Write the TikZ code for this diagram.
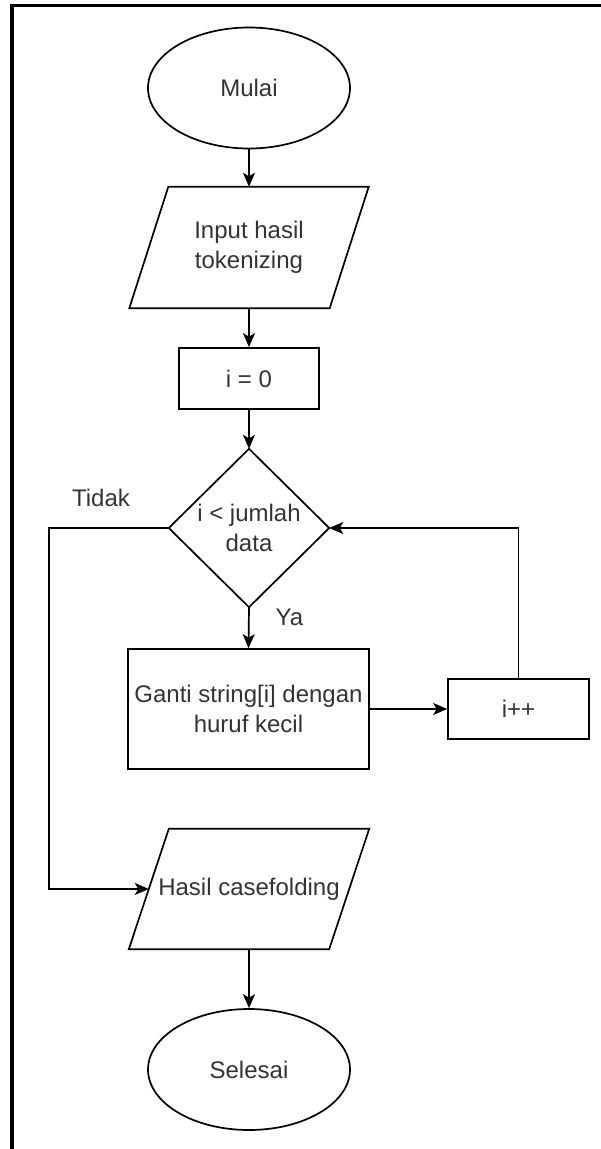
\documentclass[tikz,border=0pt]{standalone}
\usepackage{fontspec}
\setmainfont{Liberation Sans}
\usetikzlibrary{arrows.meta,shapes.geometric}

\tikzset{
  lbl/.style={font=\fontsize{24}{30}\selectfont, text=black!80, align=center},
  term/.style={lbl, ellipse, draw, line width=1.7pt, inner sep=0pt,
               minimum width=202pt, minimum height=121pt},
  proc/.style={lbl, rectangle, draw, line width=1.7pt, inner sep=0pt},
  slot/.style={lbl, rectangle, inner sep=0pt},
  edge/.style={line width=1.7pt, -{Stealth[length=14pt,width=12pt,inset=3.5pt]}},
  outline/.style={line width=1.7pt, line join=miter},
}

\begin{document}
\begin{tikzpicture}[x=1pt, y=-1pt]
  \useasboundingbox (0,0) rectangle (601,1149);

  % frame along top and left
  \draw[line width=3.5pt] (601,5.5) -- (12,5.5) -- (12,1149);

  % start / end terminals
  \node[term] (mulai) at (249,88) {Mulai};
  \node[term] (selesai) at (249,1069.5) {Selesai};

  % input parallelogram
  \node[slot, minimum width=200pt, minimum height=121pt] (input) at (249,247.5)
       {Input hasil\\tokenizing};
  \draw[outline] ([xshift=19.5pt]input.north west) -- ([xshift=19.5pt]input.north east)
       -- ([xshift=-19.5pt]input.south east) -- ([xshift=-19.5pt]input.south west) -- cycle;

  % initialisation
  \node[proc, minimum width=140pt, minimum height=61pt] (init) at (249,378.5) {i = 0};

  % decision diamond
  \node[slot, minimum width=160pt, minimum height=158pt] (cond) at (249,528)
       {i < jumlah\\data};
  \draw[outline] (cond.north) -- (cond.east) -- (cond.south) -- (cond.west) -- cycle;

  % loop body and increment
  \node[proc, minimum width=241pt, minimum height=120pt] (ganti) at (248.5,709)
       {Ganti string[i] dengan\\huruf kecil};
  \node[proc, minimum width=141pt, minimum height=60pt] (inc) at (518.5,709) {i++};

  % output parallelogram
  \node[slot, minimum width=200pt, minimum height=120pt] (hasil) at (249,889)
       {Hasil casefolding};
  \draw[outline] ([xshift=20pt]hasil.north west) -- ([xshift=20pt]hasil.north east)
       -- ([xshift=-20pt]hasil.south east) -- ([xshift=-20pt]hasil.south west) -- cycle;

  % branch labels
  \node[lbl] (tidak) at (101,498) {Tidak};
  \node[lbl] (ya) at (289.5,617) {Ya};

  % connectors
  \coordinate (exit) at (49,528);
  \draw[edge] (mulai.south) -- (input.north);
  \draw[edge] (input.south) -- (init.north);
  \draw[edge] (init.south) -- (cond.north);
  \draw[edge] (cond.south) -- (ganti.north);
  \draw[edge] (ganti.east) -- (inc.west);
  \draw[edge] (inc.north) |- (cond.east);
  \draw[edge] (cond.west) -- (exit) |- (hasil.west);
  \draw[edge] (hasil.south) -- (selesai.north);
\end{tikzpicture}
\end{document}
